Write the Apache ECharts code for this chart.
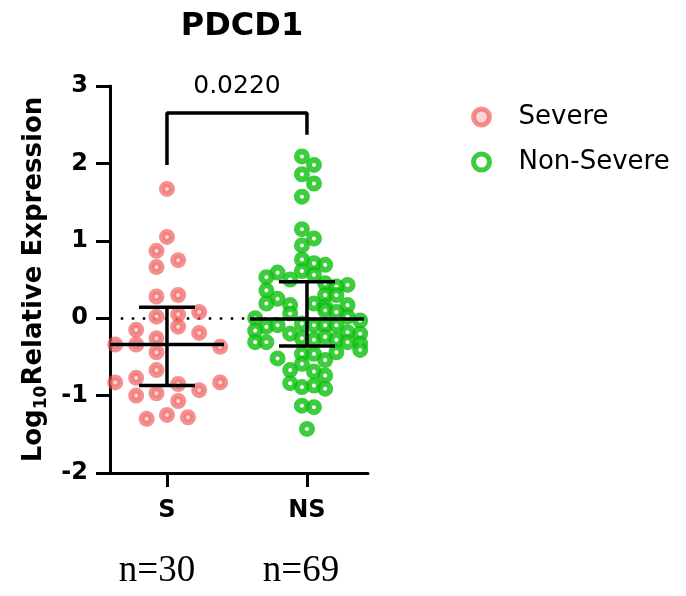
<!DOCTYPE html>
<html>
<head>
<meta charset="utf-8">
<script src="https://cdn.jsdelivr.net/npm/echarts@6/dist/echarts.min.js"></script>
<style>html,body{margin:0;padding:0;background:#fff}#c{width:686px;height:596px}</style>
</head>
<body>
<div id="c"></div>
<script>
// ---- data ----
const categories = ['S', 'NS'];
const nLabels = ['n=30', 'n=69'];
const seriesNames = ['Severe', 'Non-Severe'];

const severeValues = [1.67, 1.05, 0.87, 0.75, 0.66, 0.28, 0.30, 0.08, 0.02, 0.05,
  -0.11, -0.15, -0.19, -0.34, -0.34, -0.26, -0.44, -0.37, -0.67, -0.83,
  -0.77, -0.83, -1.00, -0.97, -0.85, -0.93, -1.07, -1.30, -1.25, -1.28];
const severeOffsets = [0.00, 0.00, -0.075, 0.08, -0.075, -0.075, 0.08, 0.23, -0.075, 0.08,
  0.08, -0.22, 0.23, -0.37, -0.22, -0.075, -0.075, 0.38, -0.075, -0.37,
  -0.22, 0.38, -0.22, -0.075, 0.08, 0.23, 0.08, -0.145, 0.00, 0.15];

const nsValues = [2.09, 1.98, 1.86, 1.74, 1.57, 1.15, 1.03, 0.94, 0.76, 0.71,
  0.69, 0.61, 0.56, 0.59, 0.53, 0.45, 0.43, 0.41, 0.36, 0.30,
  0.30, 0.25, 0.19, 0.17, 0.19, 0.17, 0.15, 0.06, 0.10, 0.08,
  0.00, 0.02, -0.03, -0.11, -0.09, -0.07, -0.09, -0.09, -0.09, -0.16,
  -0.20, -0.18, -0.20, -0.31, -0.31, -0.26, -0.28, -0.24, -0.28, -0.31,
  -0.33, -0.46, -0.46, -0.52, -0.67, -0.59, -0.54, -0.69, -0.74, -0.44,
  -0.41, -0.84, -0.89, -0.87, -0.91, -1.13, -1.15, -1.43, 0.50];
const nsOffsets = [-0.036, 0.05, -0.036, 0.05, -0.036, -0.036, 0.05, -0.036, -0.036, 0.05,
  0.13, -0.036, 0.05, -0.21, -0.29, 0.13, 0.29, 0.21, -0.29, 0.13,
  0.21, -0.21, -0.29, -0.12, 0.05, 0.29, 0.13, -0.12, 0.13, 0.21,
  -0.37, 0.29, 0.38, -0.29, -0.21, -0.036, 0.05, 0.13, 0.21, -0.37,
  -0.12, 0.29, 0.38, -0.37, -0.29, -0.036, 0.05, 0.13, 0.21, 0.29,
  0.38, -0.036, 0.05, -0.21, -0.12, -0.036, 0.13, 0.05, 0.13, 0.21,
  0.38, -0.12, -0.036, 0.05, 0.13, -0.036, 0.05, 0.00, -0.12];

// mean and error bars
const centers = [-0.34, -0.01];
const upperBars = [0.14, 0.47];
const lowerBars = [-0.87, -0.36];

// significance annotation
const pValue = '0.0220';
const bracketTop = 2.65;
const bracketEnds = [1.98, 2.37];
const pLabelY = 3.0;

// ---- chart ----
const chart = echarts.init(document.getElementById('c'), null, {renderer: 'canvas'});

const sevData = severeValues.map((v, i) => [0 + severeOffsets[i], v]);
const nsData = nsValues.map((v, i) => [1 + nsOffsets[i], v]);
const barData = categories.map((c, i) => [i, centers[i], lowerBars[i], upperBars[i]]);
const bracketData = [[0, bracketEnds[0]], [0, bracketTop], [1, bracketTop], [1, bracketEnds[1]]];

const SANS = 'DejaVu Sans';

chart.setOption({
  backgroundColor: '#ffffff',
  animation: false,
  title: {
    text: 'PDCD1',
    left: 237, top: 6, textAlign: 'center',
    textStyle: {fontFamily: SANS, fontWeight: 'bold', fontSize: 32, color: '#000'}
  },
  legend: {
    data: seriesNames,
    orient: 'vertical',
    left: 466, top: 99,
    itemWidth: 16, itemHeight: 16, itemGap: 19,
    icon: 'circle',
    itemStyle: {borderWidth: 5},
    textStyle: {fontFamily: SANS, fontSize: 26, color: '#000', padding: [0, 0, 0, 24]}
  },
  grid: {left: 110, top: 86, width: 258, height: 387, containLabel: false},
  xAxis: {
    type: 'value', min: -0.407, max: 1.436,
    splitLine: {show: false},
    axisLine: {show: true, onZero: false, lineStyle: {color: '#000', width: 3}},
    axisTick: {show: true, customValues: [0, 1], length: 14, lineStyle: {color: '#000', width: 3}},
    axisLabel: {
      show: true, customValues: [0, 1], margin: 23,
      formatter: v => '{a|' + categories[v] + '}\n{b' + v + '|' + nLabels[v] + '}',
      rich: {
        a: {fontFamily: SANS, fontWeight: 'bold', fontSize: 24, lineHeight: 30, color: '#000'},
        b0: {fontFamily: 'Liberation Serif', fontSize: 37, lineHeight: 44, color: '#000', padding: [47, 20, 0, 0]},
        b1: {fontFamily: 'Liberation Serif', fontSize: 37, lineHeight: 44, color: '#000', padding: [47, 12, 0, 0]}
      }
    }
  },
  yAxis: {
    type: 'value', min: -2, max: 3, interval: 1,
    splitLine: {show: false},
    axisLine: {show: true, onZero: false, lineStyle: {color: '#000', width: 3}},
    axisTick: {show: true, length: 14, lineStyle: {color: '#000', width: 3}},
    axisLabel: {margin: 22, fontFamily: SANS, fontWeight: 'bold', fontSize: 24, color: '#000',
      formatter: v => String(v)},
    name: 'Log{sub|10}Relative Expression',
    nameLocation: 'middle', nameGap: 60,
    nameTextStyle: {
      fontFamily: SANS, fontWeight: 'bold', fontSize: 26, color: '#000', lineHeight: 32,
      rich: {
        sub: {fontFamily: SANS, fontWeight: 'bold', fontSize: 17, color: '#000', verticalAlign: 'bottom', lineHeight: 32}
      }
    }
  },
  series: [
    {
      name: 'Severe', type: 'scatter', z: 3,
      data: sevData, symbol: 'circle', symbolSize: 10,
      itemStyle: {color: 'rgba(252,200,200,0.95)', borderColor: 'rgba(238,82,82,0.8)', borderWidth: 6},
      markLine: {
        silent: true, symbol: 'none', z: 1,
        lineStyle: {color: '#000', width: 2.5, type: [2.5, 8.5]},
        label: {show: false},
        data: [[{coord: [-0.33, 0]}, {coord: [1.43, 0]}]]
      }
    },
    {
      name: 'Non-Severe', type: 'scatter', z: 4,
      data: nsData, symbol: 'circle', symbolSize: 10,
      itemStyle: {color: '#ffffff', borderColor: '#0cbf0c', borderWidth: 6}
    },
    {
      name: 'meanSD', type: 'custom', z: 10,
      data: barData,
      renderItem: function (params, api) {
        const x = api.value(0);
        const c = api.coord([x, api.value(1)]);
        const lo = api.coord([x, api.value(2)]);
        const hi = api.coord([x, api.value(3)]);
        const hw = 57, cw = 28;
        const st = {stroke: '#000', lineWidth: 3.5};
        return {
          type: 'group',
          children: [
            {type: 'line', shape: {x1: c[0] - hw, y1: c[1], x2: c[0] + hw, y2: c[1]}, style: st},
            {type: 'line', shape: {x1: c[0], y1: lo[1], x2: c[0], y2: hi[1]}, style: st},
            {type: 'line', shape: {x1: c[0] - cw, y1: hi[1], x2: c[0] + cw, y2: hi[1]}, style: st},
            {type: 'line', shape: {x1: c[0] - cw, y1: lo[1], x2: c[0] + cw, y2: lo[1]}, style: st}
          ]
        };
      }
    },
    {
      name: 'bracket', type: 'line', z: 10,
      data: bracketData, symbol: 'none', clip: false,
      lineStyle: {color: '#000', width: 3.5}
    },
    {
      name: 'p', type: 'scatter', z: 10, clip: false,
      data: [[0.5, pLabelY]], symbolSize: 1,
      itemStyle: {color: 'rgba(0,0,0,0)'},
      label: {show: true, position: 'inside', formatter: pValue,
        fontFamily: SANS, fontSize: 25, color: '#000', textBorderWidth: 0, opacity: 1}
    }
  ]
});
</script>
</body>
</html>
